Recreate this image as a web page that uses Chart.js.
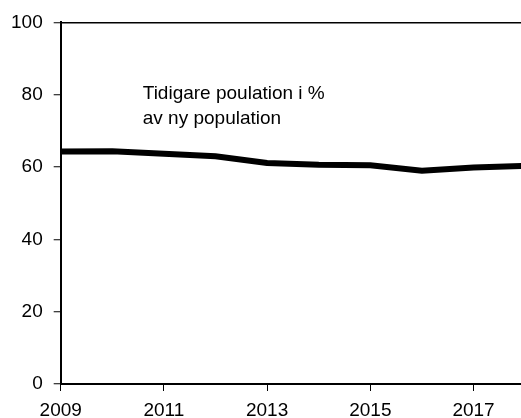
<!DOCTYPE html>
<html lang="sv">
<head>
<meta charset="UTF-8">
<title>Tidigare population</title>
<script src="https://cdn.jsdelivr.net/npm/chart.js"></script>
<style>
  body { margin: 0; background: #fff; }
  #wrap { width: 521px; height: 418px; }
</style>
</head>
<body>
<div id="wrap"><canvas id="c"></canvas></div>
<script>
const years = [2009, 2010, 2011, 2012, 2013, 2014, 2015, 2016, 2017, 2018];
const share = [64.3, 64.4, 63.7, 63.0, 61.1, 60.6, 60.5, 59.0, 59.9, 60.3];
const xTicks = [2009, 2011, 2013, 2015, 2017];
const noteLines = ['Tidigare poulation i %', 'av ny population'];

// text label inside the plot
const notePlugin = {
  id: 'note',
  afterDatasetsDraw(chart) {
    const { ctx, scales } = chart;
    const x = scales.x.getPixelForValue(2010.59);
    const y = scales.y.getPixelForValue(78.9);
    ctx.save();
    ctx.font = '19px "Liberation Sans", Arial, sans-serif';
    ctx.fillStyle = '#000';
    ctx.textBaseline = 'alphabetic';
    noteLines.forEach((t, i) => ctx.fillText(t, x, y + i * 25));
    ctx.restore();
  }
};

Chart.defaults.font.family = '"Liberation Sans", Arial, sans-serif';
Chart.defaults.font.size = 19;
Chart.defaults.color = '#000';

new Chart(document.getElementById('c'), {
  type: 'line',
  data: {
    datasets: [{
      data: years.map((y, i) => ({ x: y, y: share[i] })),
      borderColor: '#000',
      borderWidth: 6,
      pointRadius: 0,
      tension: 0
    }]
  },
  options: {
    responsive: true,
    maintainAspectRatio: false,
    animation: false,
    layout: { padding: { top: 10, right: 0, left: 0, bottom: -12 } },
    plugins: { legend: { display: false }, tooltip: { enabled: false } },
    scales: {
      x: {
        type: 'linear',
        min: 2009,
        max: 2017.92,
        border: { color: '#000', width: 2 },
        grid: { drawOnChartArea: false, tickLength: 7, tickColor: '#000', tickWidth: 1 },
        ticks: {
          padding: 10,
          maxRotation: 0,
          font: { size: 19, lineHeight: 1 },
          callback: v => String(v)
        },
        afterBuildTicks: axis => {
          axis.ticks = xTicks.map(v => ({ value: v }));
        }
      },
      y: {
        min: 0,
        max: 100,
        border: { color: '#000', width: 2 },
        grid: {
          color: c => c.tick && c.tick.value === 100 ? '#000' : 'transparent',
          lineWidth: 1.5,
          tickLength: 7,
          tickColor: '#000',
          tickWidth: 1
        },
        ticks: { stepSize: 20, padding: 11 }
      }
    }
  },
  plugins: [notePlugin]
});
</script>
</body>
</html>
